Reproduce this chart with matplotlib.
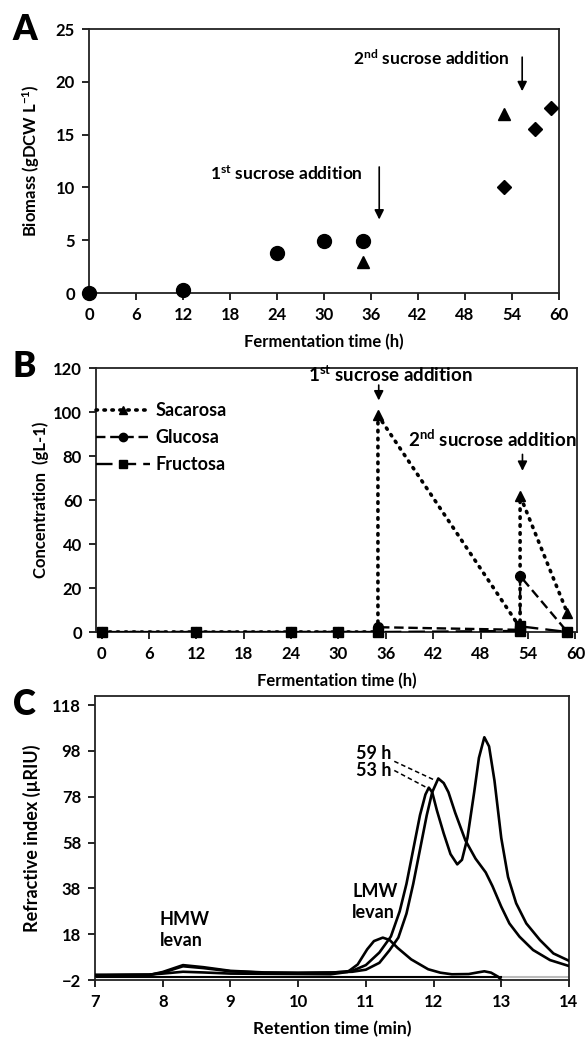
import matplotlib
matplotlib.use("Agg")
from matplotlib import pyplot as plt

plt.rcParams['font.family'] = ['Lato', 'DejaVu Sans']
plt.rcParams['font.weight'] = 'bold'
plt.rcParams['axes.labelweight'] = 'bold'
plt.rcParams['mathtext.fontset'] = 'custom'
plt.rcParams['mathtext.bf'] = 'Lato:bold'
plt.rcParams['mathtext.rm'] = 'Lato:bold'
plt.rcParams['mathtext.default'] = 'bf'

# Panel A - biomass
a_circle_t = [0, 12, 24, 30, 35]
a_circle_v = [0, 0.3, 3.8, 4.9, 4.9]
a_tri_t = [35, 53]
a_tri_v = [2.9, 17.0]
a_diam_t = [53, 57, 59]
a_diam_v = [10.0, 15.5, 17.5]

# Panel B - sugars
b_time = [0, 12, 24, 30, 35, 35, 53, 53, 59]
sacarosa = [0, 0, 0, 0, 0, 98.5, 2.0, 62.0, 8.5]
glucosa = [0, 0, 0, 0, 0, 2.2, 1.0, 25.5, 0]
fructosa_t = [0, 12, 24, 30, 35, 53, 53, 59]
fructosa = [0, 0, 0, 0, 0, 0.5, 2.6, 0]
sac_mark_t = [35, 53, 59]
sac_mark_v = [98.5, 62.0, 8.5]
glu_mark_t = [0, 12, 24, 30, 35, 53, 59]
glu_mark_v = [0, 0, 0, 0, 2.2, 25.5, 0]

# Panel C - chromatograms
c59_x = [7.0, 7.8, 8.0, 8.3, 8.6, 9.0, 9.5, 10.0, 10.5, 10.8, 11.0, 11.2, 11.35, 11.48,
         11.6, 11.7, 11.8, 11.9, 11.98, 12.07, 12.15, 12.22, 12.32, 12.47, 12.62, 12.77,
         12.87, 13.0, 13.12, 13.27, 13.47, 13.72, 14.0]
c59_y = [0, 0.2, 1.5, 4.5, 3.6, 2.0, 1.3, 1.2, 1.3, 1.6, 2.5, 5.5, 11, 16.5,
         27, 40, 55, 70, 80, 86, 84, 80, 71, 59, 51, 45,
         39, 30, 22.7, 16.9, 11.1, 6.7, 4.1]
c53_x = [7.0, 7.8, 8.0, 8.3, 8.6, 9.0, 9.5, 10.0, 10.5, 10.8, 11.0, 11.2, 11.37, 11.5,
         11.6, 11.7, 11.8, 11.88, 11.93, 11.98, 12.05, 12.15, 12.25, 12.35, 12.42, 12.5,
         12.6, 12.67, 12.75, 12.82, 12.9, 13.0, 13.1, 13.22, 13.37, 13.57, 13.77, 14.0]
c53_y = [0, 0.2, 1.2, 4.0, 3.2, 1.8, 1.2, 1.0, 1.2, 2.0, 4.5, 10, 17, 28,
         40, 55, 70, 79, 82, 80, 72, 62, 53, 48.5, 50.5, 60,
         80, 95, 104, 100, 85, 60, 43, 31.5, 22.7, 15.5, 9.6, 6.4]
c35_x = [7.0, 7.8, 8.0, 8.3, 8.6, 9.0, 10.0, 10.48, 10.73, 10.88, 11.02, 11.12, 11.25,
         11.35, 11.47, 11.67, 11.92, 12.1, 12.27, 12.52, 12.65, 12.75, 12.85, 12.95, 13.0]
c35_y = [0.3, 0.4, 0.8, 1.6, 1.3, 0.8, 0.6, 0.5, 1.5, 4.8, 11.4, 15, 16.5,
         15.5, 12, 7, 2.7, 1.2, 0.5, 0.6, 1.3, 1.8, 1.2, -0.5, -2]
blank_x = [7.0, 13.0]
blank_y = [-0.6, -0.6]

fig = plt.figure(figsize=(5.87, 10.44), dpi=100)

def style_axes(ax):
    for s in ax.spines.values():
        s.set_linewidth(1.3)
        s.set_color('#222222')
    ax.tick_params(direction='out', length=5, width=1.2, labelsize=12, pad=5)
    for lab in ax.get_xticklabels() + ax.get_yticklabels():
        lab.set_fontweight('bold')

# ---- A ----
axA = fig.add_axes([0.1516, 0.7193, 0.8007, 0.2529])
axA.plot(a_circle_t, a_circle_v, 'o', color='black', ms=10, clip_on=False, zorder=5)
axA.plot(a_tri_t, a_tri_v, '^', color='black', ms=9, clip_on=False, zorder=5)
axA.plot(a_diam_t, a_diam_v, 'D', color='black', ms=7, clip_on=False, zorder=5)
axA.set_xlim(0, 60)
axA.set_ylim(0, 25)
axA.set_xticks(range(0, 61, 6))
axA.set_yticks(range(0, 26, 5))
axA.set_xlabel('Fermentation time (h)', fontsize=12, labelpad=8)
axA.set_ylabel(r'Biomass (gDCW L$^{-1}$)', fontsize=12, labelpad=10)
axA.text(35, 11.35, r'1$^{st}$ sucrose addition', ha='right', va='center', fontsize=12.5)
axA.text(53.7, 22.2, r'2$^{nd}$ sucrose addition', ha='right', va='center', fontsize=12.5)
arrow = dict(arrowstyle='-|>', color='black', lw=1.2, mutation_scale=14)
axA.annotate('', xy=(37.05, 6.7), xytext=(37.05, 12.2), arrowprops=arrow)
axA.annotate('', xy=(55.3, 18.85), xytext=(55.3, 22.6), arrowprops=arrow)
style_axes(axA)

# ---- B ----
dot = (0, (0.4, 1.8))
axB = fig.add_axes([0.1635, 0.3946, 0.8194, 0.2529])
axB.plot(b_time, sacarosa, linestyle=dot, color='black', lw=2.6, dash_capstyle='round', zorder=3)
axB.plot(b_time, glucosa, linestyle=(0, (4, 2)), color='black', lw=1.7, zorder=3)
axB.plot(fructosa_t, fructosa, linestyle=(0, (7, 3)), color='black', lw=1.7, zorder=3)
axB.plot(sac_mark_t, sac_mark_v, '^', color='black', ms=7, clip_on=False, zorder=4)
axB.plot(glu_mark_t, glu_mark_v, 'o', color='black', ms=7, clip_on=False, zorder=4)
axB.plot(fructosa_t, fructosa, 's', color='black', ms=7, clip_on=False, zorder=4)
# legend handles
h1, = axB.plot([], [], linestyle=dot, lw=2.6, dash_capstyle='round', color='black', marker='^', ms=6)
h2, = axB.plot([], [], linestyle=(0, (4, 2)), lw=1.7, color='black', marker='o', ms=6)
h3, = axB.plot([], [], linestyle=(0, (7, 3)), lw=1.7, color='black', marker='s', ms=6)
axB.legend([h1, h2, h3], ['Sacarosa', 'Glucosa', 'Fructosa'], loc='upper left',
           bbox_to_anchor=(0.0, 0.87), frameon=False, fontsize=13, handlelength=3.0,
           handletextpad=0.3, borderpad=0, borderaxespad=0, labelspacing=0.55)
axB.set_xlim(-0.7, 60.2)
axB.set_ylim(0, 120)
axB.set_xticks(range(0, 61, 6))
axB.set_yticks(range(0, 121, 20))
axB.set_xlabel('Fermentation time (h)', fontsize=12, labelpad=8)
axB.set_ylabel('Concentration  (gL-1)', fontsize=12, labelpad=3)
axB.text(36.6, 117, r'1$^{st}$ sucrose addition', ha='center', va='center', fontsize=13.5)
axB.text(60.2, 87.5, r'2$^{nd}$ sucrose addition', ha='right', va='center', fontsize=13.5)
axB.annotate('', xy=(35.1, 104), xytext=(35.1, 113.5), arrowprops=arrow)
axB.annotate('', xy=(53.3, 72), xytext=(53.3, 82), arrowprops=arrow)
style_axes(axB)

# ---- C ----
axC = fig.add_axes([0.1618, 0.0613, 0.8075, 0.272])
axC.axhline(-0.6, color='#bbbbbb', lw=1.5, zorder=1)
axC.plot(blank_x, blank_y, color='black', lw=1.5, zorder=2)
axC.plot(c59_x, c59_y, color='black', lw=1.9, zorder=3)
axC.plot(c53_x, c53_y, color='black', lw=1.9, zorder=3)
axC.plot(c35_x, c35_y, color='black', lw=1.9, zorder=3)
axC.set_xlim(7, 14)
axC.set_ylim(-2, 122)
axC.set_xticks(range(7, 15))
axC.set_yticks(range(-2, 119, 20))
axC.set_xlabel('Retention time (min)', fontsize=12.5, labelpad=8)
axC.set_ylabel('Refractive index (µRIU)', fontsize=13, labelpad=8)
axC.text(11.38, 97, '59 h', ha='right', va='center', fontsize=13)
axC.text(11.38, 89.5, '53 h', ha='right', va='center', fontsize=13)
axC.plot([11.42, 12.0], [93.5, 85.5], linestyle=(0, (3, 2)), color='black', lw=1.1)
axC.plot([11.42, 11.9], [89.5, 82.0], linestyle=(0, (3, 2)), color='black', lw=1.1)
axC.text(7.96, 20, 'HMW\nlevan', ha='left', va='center', fontsize=13, linespacing=1.3)
axC.text(10.8, 32, 'LMW\nlevan', ha='left', va='center', fontsize=13, linespacing=1.3)
style_axes(axC)

fig.text(0.022, 0.972, 'A', fontsize=25, fontweight='heavy', va='center')
fig.text(0.022, 0.649, 'B', fontsize=25, fontweight='heavy', va='center')
fig.text(0.022, 0.325, 'C', fontsize=25, fontweight='heavy', va='center')

fig.savefig('out.png', dpi=100)
